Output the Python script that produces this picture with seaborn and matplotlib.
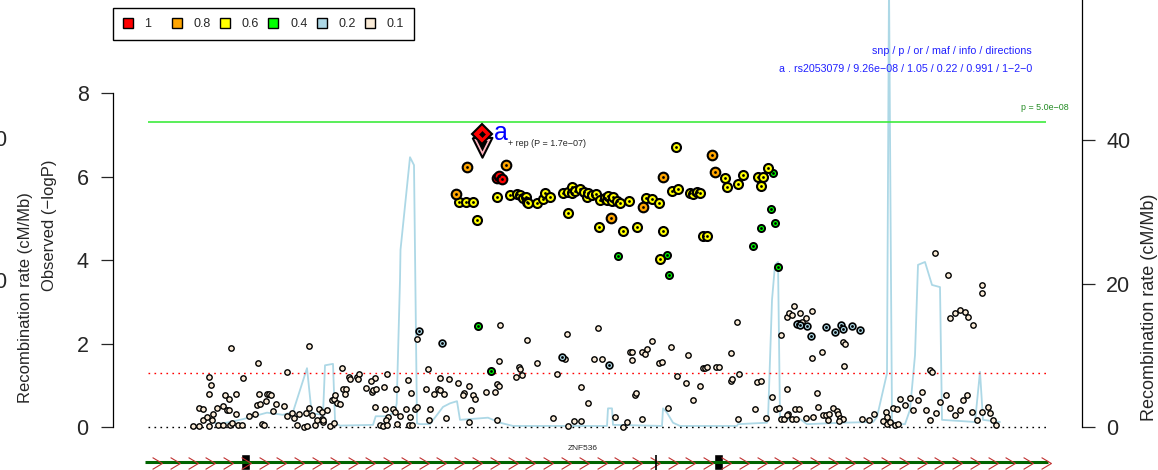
import numpy as np
import pandas as pd
import matplotlib
matplotlib.use('Agg')
import matplotlib.pyplot as plt
from matplotlib.path import Path
from matplotlib.lines import Line2D
import seaborn as sns

# positions are kb from the start of the region, values are -log10(P)
red_pos = [348.7, 351, 353.7]
red_logp = [5.97, 6.01, 5.93]

orange_pos = [319.3, 358, 308, 463, 495.3, 514.7, 564, 567.3]
orange_logp = [6.22, 6.28, 5.57, 5.01, 5.26, 5.98, 6.51, 6.11]

yellow_pos = [310.7, 318, 325.3, 328.7, 349.3, 362, 368.7, 372, 375.3, 378, 379.3, 380.3, 388.7, 394.7,
              397, 402, 415.3, 420.3, 423.7, 423.7, 427, 432, 436, 438.7, 440.3, 443.7, 448, 452, 457,
              458.7, 460.3, 463.7, 465.3, 468.7, 472, 480.7, 420.3, 451.3, 474.7, 488.7, 498, 503.7,
              511.3, 514.7, 512, 527.7, 523.7, 530.3, 542, 545.3, 548.7, 552, 555.3, 558.7, 577, 578.7,
              590.3, 595.3, 610.3, 615.3, 612.7, 619.7]
yellow_logp = [5.38, 5.38, 5.40, 4.97, 5.52, 5.56, 5.57, 5.56, 5.48, 5.52, 5.40, 5.37, 5.37, 5.45,
               5.61, 5.52, 5.61, 5.64, 5.74, 5.61, 5.66, 5.69, 5.64, 5.52, 5.60, 5.56, 5.58, 5.44, 5.48,
               5.44, 5.53, 5.42, 5.52, 5.41, 5.36, 5.41, 5.12, 4.78, 4.70, 4.78, 5.48, 5.45,
               5.37, 4.69, 4.02, 6.71, 5.66, 5.70, 5.61, 5.58, 5.64, 5.60, 4.57, 4.57, 5.97, 5.74,
               5.82, 6.04, 5.98, 5.98, 5.77, 6.21]

green_pos = [469.7, 519.3, 520.7, 625.3, 623, 627, 612.7, 604.7, 630.3, 330.3, 343]
green_logp = [4.10, 4.11, 3.64, 6.08, 5.22, 4.88, 4.76, 4.33, 3.84, 2.42, 1.34]

blue_pos = [271.3, 294.3, 413.7, 461, 648.7, 652, 658.7, 663, 677.7, 687, 693, 694.7, 703.7, 712]
blue_logp = [2.30, 2.02, 1.68, 1.49, 2.47, 2.44, 2.43, 2.19, 2.40, 2.27, 2.44, 2.34, 2.43, 2.32]

low_pos = [45, 51, 61, 70, 75, 82, 84, 90, 94, 114, 116, 149, 156, 159, 167, 175, 182, 186, 55, 59,
           65, 51, 55, 69, 75, 79, 81, 88, 101, 107, 109, 112, 118, 128, 136, 125, 139, 144, 146, 151,
           158, 161, 164, 171, 174, 179, 174, 169, 175, 64, 61, 63, 61, 77, 81, 88, 95, 110, 111, 119,
           121, 123, 139, 83, 161, 184, 186, 189, 192, 187, 194, 201, 202, 195, 198, 197, 209, 211, 210,
           218, 224, 225, 227, 223, 228, 239, 248, 236, 227, 237, 245, 247, 252, 258, 240, 238, 232, 235,
           239, 249, 262, 263, 260, 267, 269, 269, 261, 264, 280, 278, 282, 281, 286, 290, 296, 292, 292,
           301, 310, 316, 315, 321, 325, 327, 323, 298, 321, 338, 347, 349, 351, 351, 352, 349, 368, 371,
           372, 379, 374, 389, 409, 419, 417, 450, 446, 454, 433, 440, 405, 420, 426, 433, 467, 475, 479,
           494, 482, 484, 484, 494, 497, 499, 504, 487, 488, 511, 514, 523, 529, 520, 538, 540, 545, 552,
           555, 557, 559, 568, 571, 583, 589, 583, 584, 591, 590, 607, 609, 613, 618, 624, 633, 628, 631,
           633, 636, 639, 640, 639, 639, 641, 644, 646, 652, 658, 664, 650, 654, 664, 674, 647, 651, 644,
           648, 658, 665, 669, 670, 675, 678, 681, 680, 685, 689, 690, 692, 695, 691, 695, 697, 696, 714,
           721, 726, 738, 739, 735, 739, 742, 745, 749, 747, 750, 752, 787, 800, 802, 807, 812, 817, 820,
           825, 834, 834, 782, 784, 757, 762, 765, 770, 774, 778, 782, 788, 792, 798, 802, 807, 812, 815,
           819, 824, 829, 834, 840, 842, 845, 848]
low_logp = [0.02, 0.02, 0.02, 0.06, 0.06, 0.06, 0.10, 0.04, 0.04, 0.08, 0.04, 0.04, 0.00, 0.02, 0.06,
            0.12, 0.02, 0.10, 0.18, 0.24, 0.32, 0.46, 0.43, 0.45, 0.50, 0.40, 0.40, 0.32, 0.26, 0.32,
            0.52, 0.54, 0.62, 0.56, 0.51, 0.38, 0.26, 0.34, 0.22, 0.32, 0.34, 0.46, 0.28, 0.44, 0.36,
            0.40, 0.20, 0.16, 0.16, 0.18, 0.80, 1.01, 1.20, 0.76, 0.66, 0.78, 1.18, 1.54, 0.78, 0.78,
            0.80, 0.76, 1.31, 1.90, 1.94, 0.64, 0.68, 0.58, 0.54, 0.77, 1.42, 1.20, 1.16, 0.90, 0.90,
            0.80, 1.20, 1.26, 1.16, 0.94, 0.84, 0.88, 1.18, 1.10, 0.90, 1.27, 0.90, 0.97, 0.48, 0.44,
            0.42, 0.36, 0.26, 0.42, 0.24, 0.16, 0.06, 0.02, 0.06, 0.08, 0.24, 0.82, 1.12, 0.44, 0.48,
            2.10, 0.06, 0.06, 1.38, 0.90, 0.44, 0.16, 0.78, 0.90, 0.80, 0.88, 1.18, 1.14, 1.06, 0.82,
            0.76, 0.98, 0.76, 0.68, 0.40, 0.22, 0.11, 0.84, 0.84, 1.02, 0.98, 1.59, 2.44, 0.18, 1.20,
            1.44, 1.40, 2.08, 1.24, 1.54, 1.26, 2.22, 1.64, 2.38, 1.64, 1.62, 0.95, 0.58, 0.22, 0.03,
            0.14, 0.14, 0.23, 0.00, 0.12, 0.20, 1.80, 1.80, 1.60, 1.80, 1.74, 1.86, 2.06, 0.76, 0.82,
            1.54, 1.56, 1.92, 1.22, 0.46, 1.05, 1.73, 0.64, 0.98, 1.42, 1.42, 1.44, 1.44, 1.44, 1.78,
            2.51, 1.11, 1.16, 1.26, 0.20, 0.44, 1.08, 1.11, 0.22, 0.72, 2.20, 0.44, 0.46, 0.20, 0.20,
            0.90, 0.32, 0.28, 2.64, 2.74, 2.69, 2.90, 2.72, 2.60, 2.78, 2.48, 2.52, 1.66, 1.80, 0.44,
            0.42, 0.20, 0.20, 0.22, 0.24, 0.82, 0.48, 0.28, 0.28, 0.30, 0.16, 0.46, 0.38, 0.30, 0.22,
            0.20, 0.14, 2.04, 1.98, 1.47, 0.20, 0.16, 0.30, 0.36, 0.24, 0.14, 0.08, 0.12, 0.46, 0.44,
            0.04, 0.08, 0.68, 4.17, 3.64, 2.61, 2.73, 2.80, 2.75, 2.63, 2.44, 3.40, 3.20, 1.37, 1.32,
            0.53, 0.70, 0.40, 0.65, 0.84, 0.40, 0.17, 0.34, 0.60, 0.77, 0.45, 0.29, 0.40, 0.65, 0.77,
            0.36, 0.17, 0.36, 0.48, 0.34, 0.17, 0.05]

# lead snp and replication
lead_pos, lead_logp = 334, 7.03
rep_logp = 6.77

# recombination rate (cM/Mb)
rec_pos = [60, 70, 82, 95, 119, 135, 145, 159, 163.7, 175, 177, 185, 187, 189, 192, 225, 227.7, 238.7,
           247, 248.7, 252, 252.5, 262, 266, 269, 272, 282, 295, 302, 309, 312, 340, 352, 365, 459, 460,
           464, 465, 514, 515, 519, 525, 532, 589, 590, 619, 620, 624, 627, 630, 632, 634, 652, 659, 695,
           725, 729, 739, 741, 743, 744, 747, 757, 762, 767, 770, 777, 784, 792, 794, 827, 832, 835, 852]
rec_rate = [1.0, 0.4, 0.7, 1.1, 2.0, 1.7, 2.1, 8.2, 1.9, 1.7, 8.6, 8.8, 1.0, 0.4, 0.2, 0.3, 1.5, 1.5,
            2.1, 3.3, 20.5, 24.7, 37.6, 36.5, 0.5, 0.4, 0.4, 2.8, 3.3, 3.6, 1.0, 1.3, 0.6, 0.15, 0.15, 2.6,
            2.6, 0.3, 0.15, 2.6, 2.0, 0.6, 0.15, 0.15, 0.4, 0.6, 1.0, 17.7, 22.6, 23.0, 1.4, 1.1, 1.1, 0.4,
            0.6, 0.7, 1.4, 7.5, 62.0, 20.5, 1.0, 0.4, 0.4, 2.4, 10.0, 22.6, 23.0, 19.8, 19.5, 1.0, 0.7, 7.7,
            1.0, 0.7]

# gene track
gene_start, gene_end = -3, 900
exon_mid = [97, 571]
exon_width = [9, 9]
tick_pos = 508

ld_labels = ['1', '0.8', '0.6', '0.4', '0.2', '0.1']
ld_colors = ['red', 'orange', 'yellow', '#00FF00', 'lightblue', 'antiquewhite']

sns.set_style('white')
plt.rcParams['font.family'] = ['Liberation Sans', 'DejaVu Sans']

frames = []
for lab, xs, ys in [('0.1', low_pos, low_logp), ('0.2', blue_pos, blue_logp), ('0.4', green_pos, green_logp),
                    ('0.6', yellow_pos, yellow_logp), ('0.8', orange_pos, orange_logp), ('1', red_pos, red_logp)]:
    frames.append(pd.DataFrame({'pos': xs, 'logp': ys, 'ld': lab}))
df = pd.concat(frames, ignore_index=True)

palette = dict(zip(ld_labels, ld_colors))
sizes = {'1': 48, '0.8': 48, '0.6': 42, '0.4': 26, '0.2': 24, '0.1': 15}
widths = {'1': 1.5, '0.8': 1.5, '0.6': 1.5, '0.4': 1.4, '0.2': 1.2, '0.1': 1.0}

fig = plt.figure(figsize=(11.58, 4.70), dpi=100)
px_unit = 41.75 / 7.175
ylo, yhi = -0.311, 10.036
ax = fig.add_axes([113 / 1158, 30 / 470, 969 / 1158, 432 / 470])
ax2 = ax.twinx()
ax.set_zorder(2)
ax2.set_zorder(1)
ax.patch.set_visible(False)

# recombination rate
sns.lineplot(x=rec_pos, y=rec_rate, ax=ax2, color='lightblue', linewidth=1.3, sort=False, estimator=None)
ax2.lines[0].set_clip_on(False)
ax2.set_ylim(ylo * px_unit, yhi * px_unit)
ax2.set_yticks([0, 20, 40])
ax2.tick_params(axis='y', length=9, width=0.9, labelsize=15.5, pad=8.5, right=True)
for s in ['left', 'top', 'bottom']:
    ax2.spines[s].set_visible(False)
ax2.spines['right'].set_bounds(0, 60)
ax2.spines['right'].set_linewidth(0.9)
ax2.spines['right'].set_color('black')
ax2.set_ylabel('')

# reference lines
ax.hlines(7.3, 0, 898, color='#3deb3d', linewidth=1.2)
ax.hlines(1.3, 0, 898, color='red', linewidth=1.0, linestyles=(0, (1.2, 3.1)))
ax.hlines(0, 0, 898, color='black', linewidth=1.0, linestyles=(0, (1.2, 3.1)))

for lab in ['0.1', '0.2', '0.4', '0.6', '0.8', '1']:
    sub = df[df['ld'] == lab]
    sns.scatterplot(data=sub, x='pos', y='logp', color=palette[lab], s=sizes[lab], edgecolor='black',
                    linewidth=widths[lab], ax=ax, legend=False, zorder=3, clip_on=False)
    if lab != '0.1':
        ax.scatter(sub['pos'], sub['logp'], s=4, color='black', zorder=3, linewidths=0)

# lead snp diamond and replication triangle
tri = [(-1, 0.667), (1, 0.667), (0, -1.333), (-1, 0.667)]
ax.plot(lead_pos, rep_logp, marker=tri, ms=19, mfc='#FFB6C1', mec='black', mew=1.5, zorder=5)
ax.plot(lead_pos, rep_logp, marker=tri, ms=10, mfc='black', mec='black', mew=0, zorder=5)
ax.plot(lead_pos, lead_logp, marker='D', ms=10, mfc='red', mec='black', mew=1.5, zorder=6)
ax.plot(lead_pos, lead_logp, marker='D', ms=3.5, mfc='black', mec='black', mew=0, zorder=6)
ax.text(346, 6.87, 'a', color='blue', fontsize=18, ha='left', va='baseline', zorder=7)
ax.text(360, 6.78, '+ rep (P = 1.7e\u221207)', fontsize=6.5, ha='left', va='center', zorder=7)

ax.text(884, 9.01, 'snp / p / or / maf / info / directions', color='#2020ff', fontsize=7.7,
        ha='right', va='center')
ax.text(884, 8.57, 'a . rs2053079 / 9.26e\u221208 / 1.05 / 0.22 / 0.991 / 1\u22122\u22120', color='#2020ff',
        fontsize=7.7, ha='right', va='center')
ax.text(921, 7.66, 'p = 5.0e\u221208', color='forestgreen', fontsize=6.4, ha='right', va='center')

ax.set_xlim(-35, 934)
ax.set_ylim(ylo, yhi)
ax.set_xticks([])
ax.set_yticks([0, 2, 4, 6, 8])
ax.tick_params(axis='y', length=9, width=0.9, labelsize=15.5, pad=8.5, left=True)
for s in ['right', 'top', 'bottom']:
    ax.spines[s].set_visible(False)
ax.spines['left'].set_bounds(0, 8)
ax.spines['left'].set_linewidth(0.9)
ax.spines['left'].set_color('black')
ax.set_xlabel('')
ax.set_ylabel('')

# axis titles (the two numbers at the far left are cut by the edge, as in the source picture)
fig.text(26 / 1158, 1 - 298 / 470, 'Recombination rate (cM/Mb)', rotation=90, fontsize=12,
         ha='center', va='center')
fig.text(50 / 1158, 1 - 225 / 470, 'Observed (\u2212logP)', rotation=90, fontsize=12,
         ha='center', va='center')
fig.text(1149 / 1158, 1 - 307 / 470, 'Recombination rate (cM/Mb)', rotation=90, fontsize=13,
         ha='center', va='center')
fig.text(8 / 1158, 1 - 140 / 470, '40', fontsize=15.5, ha='right', va='center')
fig.text(8 / 1158, 1 - 283 / 470, '20', fontsize=15.5, ha='right', va='center')

# legend
handles = [Line2D([], [], marker='s', ls='', mfc=c, mec='black', mew=1, ms=6.5) for c in ld_colors]
labels = ['1   '] + ld_labels[1:]
leg = fig.legend(handles, labels, loc='upper left', bbox_to_anchor=(113 / 1158, 1 - 8 / 470), ncol=6,
                 frameon=True, fancybox=False, edgecolor='black', fontsize=9, handlelength=0.8,
                 handletextpad=0.96, columnspacing=0.72, borderpad=0.8, borderaxespad=0, framealpha=1)
leg.get_frame().set_linewidth(1.0)

# gene track
axg = fig.add_axes([113 / 1158, 0, 969 / 1158, 30 / 470])
axg.set_xlim(-35, 934)
axg.set_ylim(0, 30)
axg.axis('off')
axg.hlines(8, gene_start, gene_end, color='#006400', linewidth=2.2)
chev = Path([(-0.5, 0.6), (0.5, 0), (-0.5, -0.6)], [Path.MOVETO, Path.LINETO, Path.LINETO])
chev_x = np.linspace(9, 898, 51)
axg.plot(chev_x, np.full(len(chev_x), 7.5), ls='', marker=chev, ms=8.5, mfc='none', mec='#C03030', mew=0.8)
axg.bar(exon_mid, 16, width=exon_width, bottom=0, color='black')
axg.vlines(tick_pos, 0, 15, color='black', linewidth=1.2)
axg.text(435, 22, 'ZNF536', fontsize=6, ha='center', va='center')

fig.savefig('out.png', dpi=100)
